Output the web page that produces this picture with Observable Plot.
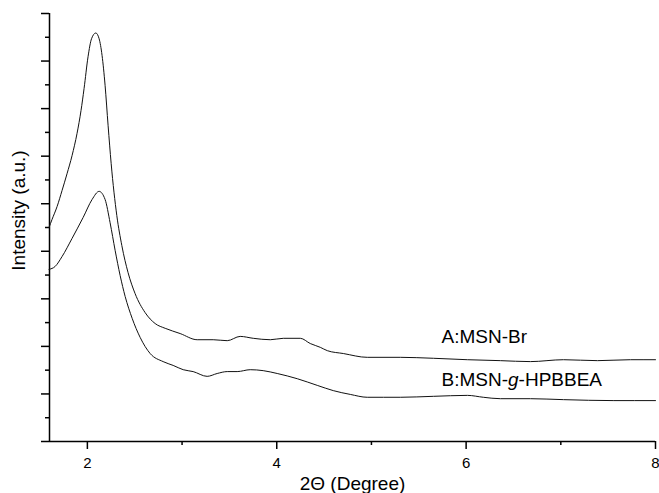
<!DOCTYPE html>
<html>
<head>
<meta charset="utf-8">
<script src="https://cdn.jsdelivr.net/npm/d3@7"></script>
<script src="https://cdn.jsdelivr.net/npm/@observablehq/plot@0.6"></script>
<style>
  html, body { margin: 0; padding: 0; background: #fff; }
  #chart svg { display: block; }
</style>
</head>
<body>
<div id="chart"></div>
<script>
// Curve A: MSN-Br (2θ in degrees, intensity in a.u.)
const xA = [1.595,1.627,1.680,1.733,1.785,1.838,1.891,1.933,1.965,2.007,2.044,2.089,2.124,2.155,2.187,2.219,2.251,2.311,2.364,2.430,2.504,2.610,2.716,2.822,2.980,3.160,3.329,3.477,3.614,3.752,3.932,4.069,4.249,4.354,4.460,4.534,4.703,4.956,5.305,5.654,6.013,6.362,6.679,7.028,7.387,7.736,8.0];
const yA = [4.50,4.67,4.94,5.28,5.63,6.01,6.48,6.96,7.42,8.09,8.47,8.59,8.47,8.12,7.49,6.64,5.85,4.75,4.12,3.55,3.11,2.71,2.48,2.38,2.27,2.14,2.14,2.12,2.21,2.17,2.14,2.17,2.17,2.06,1.98,1.91,1.85,1.77,1.77,1.75,1.72,1.70,1.68,1.72,1.70,1.72,1.72];
// Curve B: MSN-g-HPBBEA
const xB = [1.595,1.659,1.733,1.838,1.955,2.050,2.124,2.187,2.240,2.293,2.346,2.399,2.473,2.557,2.663,2.800,2.906,3.012,3.117,3.265,3.371,3.477,3.582,3.720,3.857,4.005,4.217,4.428,4.597,4.777,4.956,5.126,5.305,5.654,6.013,6.182,6.362,6.679,7.028,7.56,8.0];
const yB = [3.62,3.68,3.89,4.27,4.71,5.09,5.26,5.09,4.60,4.02,3.49,3.05,2.59,2.19,1.85,1.68,1.60,1.51,1.47,1.37,1.43,1.47,1.47,1.51,1.49,1.43,1.32,1.18,1.07,0.99,0.93,0.93,0.93,0.95,0.97,0.93,0.90,0.90,0.88,0.86,0.86];

const seriesNames = ["A:MSN-Br", "B:MSN-g-HPBBEA"];
const labelX = [5.74, 5.74];
const labelY = [2.19, 1.30];

const xMajorTicks = [2, 4, 6, 8];
const xMinorTicks = [3, 5, 7];
const yMajorTicks = [0,1,2,3,4,5,6,7,8,9];
const yMinorTicks = [0.5,1.5,2.5,3.5,4.5,5.5,6.5,7.5,8.5];

const dataA = xA.map((x, i) => ({x, y: yA[i]}));
const dataB = xB.map((x, i) => ({x, y: yB[i]}));
const labels = seriesNames.map((name, i) => ({name, x: labelX[i], y: labelY[i]}));

const FONT = "Liberation Sans, Arial, Helvetica, sans-serif";

const chart = Plot.plot({
  width: 659,
  height: 493,
  marginLeft: 49,
  marginRight: 4,
  marginTop: 13,
  marginBottom: 52,
  style: {fontFamily: FONT, background: "#fff", color: "#000"},
  x: {domain: [1.6, 8]},
  y: {domain: [0, 9]},
  marks: [
    Plot.axisY({ticks: yMajorTicks, tickSize: 8, tickFormat: () => "", label: null, strokeWidth: 1.5}),
    Plot.axisY({ticks: yMinorTicks, tickSize: 4, tickFormat: () => "", label: null, strokeWidth: 1.5}),
    Plot.axisX({ticks: xMajorTicks, tickSize: 8, tickPadding: 8, fontSize: 15, tickFormat: d3.format("d"), label: null, strokeWidth: 1.5}),
    Plot.axisX({ticks: xMinorTicks, tickSize: 4, tickFormat: () => "", label: null, strokeWidth: 1.5}),
    Plot.ruleX([1.6], {strokeWidth: 1.5}),
    Plot.ruleY([0], {strokeWidth: 1.5}),
    Plot.line(dataA, {x: "x", y: "y", curve: "monotone-x", stroke: "#111", strokeWidth: 1}),
    Plot.line(dataB, {x: "x", y: "y", curve: "monotone-x", stroke: "#111", strokeWidth: 1}),
    Plot.text(labels, {x: "x", y: "y", text: "name", textAnchor: "start", fontSize: 19, className: "series-label"}),
    Plot.text([0], {frameAnchor: "left", dx: -31, dy: -17, rotate: -90, textAnchor: "middle", text: () => "Intensity (a.u.)", fontSize: 19}),
    Plot.text([0], {frameAnchor: "bottom", dy: 48, text: () => "2\u0398 (Degree)", fontSize: 19})
  ]
});

// Italicise the "g" in series label B
d3.select(chart).selectAll("g.series-label text").each(function() {
  const t = d3.select(this);
  const s = t.text();
  const m = s.match(/^(.*-)(g)(-.*)$/);
  if (m) {
    t.text(null);
    t.append("tspan").text(m[1]);
    t.append("tspan").attr("font-style", "italic").text(m[2]);
    t.append("tspan").text(m[3]);
  }
});

document.getElementById("chart").appendChild(chart);
</script>
</body>
</html>
